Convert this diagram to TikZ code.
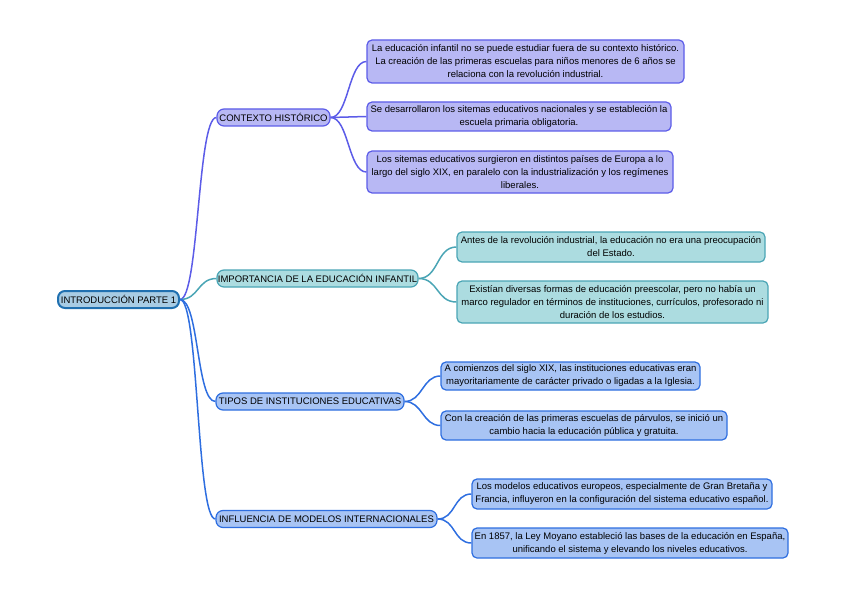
\documentclass[tikz,border=0pt]{standalone}
\usepackage{fontspec}
\setmainfont{Liberation Sans}
\definecolor{ctxFill}{HTML}{B8B8F4}
\definecolor{ctxDraw}{HTML}{5C5CE8}
\definecolor{impFill}{HTML}{ACDCE0}
\definecolor{impDraw}{HTML}{4AA5B5}
\definecolor{bluFill}{HTML}{A8C4F4}
\definecolor{bluDraw}{HTML}{2E6EE0}
\definecolor{rootFill}{HTML}{A8CCE4}
\definecolor{rootDraw}{HTML}{2070B0}
\tikzset{
  box/.style={rounded corners=5pt, line width=1.2pt, align=center, inner sep=0pt,
    font=\fontsize{9.5}{13}\selectfont, text=black},
  rootbox/.style={box, fill=rootFill, draw=rootDraw, line width=2pt, rounded corners=7pt},
  ctxbox/.style={box, fill=ctxFill, draw=ctxDraw},
  impbox/.style={box, fill=impFill, draw=impDraw},
  blubox/.style={box, fill=bluFill, draw=bluDraw},
  edge/.style={line width=1.5pt},
  ctxedge/.style={edge, draw=ctxDraw},
  impedge/.style={edge, draw=impDraw},
  bluedge/.style={edge, draw=bluDraw},
}
\begin{document}
\begin{tikzpicture}[x=1pt,y=-1pt]
\useasboundingbox (0,0) rectangle (848,599);

% root
\node[rootbox, minimum width=121pt, minimum height=17pt] (root) at (118.5,299.5) {INTRODUCCIÓN PARTE 1};

% main topics
\node[ctxbox, minimum width=113pt, minimum height=17pt, rounded corners=7pt] (ctx) at (273.5,117.5) {CONTEXTO HISTÓRICO};
\node[impbox, minimum width=201pt, minimum height=17pt, rounded corners=7pt] (imp) at (317.5,278.5) {IMPORTANCIA DE LA EDUCACIÓN INFANTIL};
\node[blubox, minimum width=188pt, minimum height=17pt, rounded corners=7pt] (tip) at (310,401.5) {TIPOS DE INSTITUCIONES EDUCATIVAS};
\node[blubox, minimum width=221pt, minimum height=17pt, rounded corners=7pt] (inf) at (326.5,519) {INFLUENCIA DE MODELOS INTERNACIONALES};

% leaves: contexto
\node[ctxbox, minimum width=317pt, minimum height=43pt] (c1) at (525.5,61.5) {La educación infantil no se puede estudiar fuera de su contexto histórico.\\ La creación de las primeras escuelas para niños menores de 6 años se\\ relaciona con la revolución industrial.};
\node[ctxbox, minimum width=304pt, minimum height=29pt] (c2) at (519,116.5) {Se desarrollaron los sitemas educativos nacionales y se estableción la\\ escuela primaria obligatoria.};
\node[ctxbox, minimum width=306pt, minimum height=42pt] (c3) at (520,172) {Los sitemas educativos surgieron en distintos países de Europa a lo\\ largo del siglo XIX, en paralelo con la industrialización y los regímenes\\ liberales.};

% leaves: importancia
\node[impbox, minimum width=308pt, minimum height=30pt] (i1) at (611,247) {Antes de la revolución industrial, la educación no era una preocupación\\ del Estado.};
\node[impbox, minimum width=311pt, minimum height=42pt] (i2) at (612.5,302) {Existían diversas formas de educación preescolar, pero no había un\\ marco regulador en términos de instituciones, currículos, profesorado ni\\ duración de los estudios.};

% leaves: tipos
\node[blubox, minimum width=259pt, minimum height=28pt] (t1) at (570.5,376) {A comienzos del siglo XIX, las instituciones educativas eran\\ mayoritariamente de carácter privado o ligadas a la Iglesia.};
\node[blubox, minimum width=286pt, minimum height=29pt] (t2) at (584,425.5) {Con la creación de las primeras escuelas de párvulos, se inició un\\ cambio hacia la educación pública y gratuita.};

% leaves: influencia
\node[blubox, minimum width=300pt, minimum height=30pt] (m1) at (622,494) {Los modelos educativos europeos, especialmente de Gran Bretaña y\\ Francia, influyeron en la configuración del sistema educativo español.};
\node[blubox, minimum width=316pt, minimum height=30pt] (m2) at (630,543) {En 1857, la Ley Moyano estableció las bases de la educación en España,\\ unificando el sistema y elevando los niveles educativos.};

% connectors root -> topics
\begin{scope}[on background layer/.try]
\end{scope}
\draw[ctxedge] (root.east) .. controls +(19,0) and +(-19,0) .. (ctx.west);
\draw[impedge] (root.east) .. controls +(19,0) and +(-19,0) .. (imp.west);
\draw[bluedge] (root.east) .. controls +(19,0) and +(-19,0) .. (tip.west);
\draw[bluedge] (root.east) .. controls +(19,0) and +(-19,0) .. (inf.west);

% topic -> leaves
\draw[ctxedge] (ctx.east) .. controls +(18,0) and +(-18,0) .. (c1.west);
\draw[ctxedge] (ctx.east) .. controls +(18,0) and +(-18,0) .. (c2.west);
\draw[ctxedge] (ctx.east) .. controls +(18,0) and +(-18,0) .. (c3.west);
\draw[impedge] (imp.east) .. controls +(20,0) and +(-20,0) .. (i1.west);
\draw[impedge] (imp.east) .. controls +(20,0) and +(-20,0) .. (i2.west);
\draw[bluedge] (tip.east) .. controls +(18,0) and +(-18,0) .. (t1.west);
\draw[bluedge] (tip.east) .. controls +(18,0) and +(-18,0) .. (t2.west);
\draw[bluedge] (inf.east) .. controls +(18,0) and +(-18,0) .. (m1.west);
\draw[bluedge] (inf.east) .. controls +(18,0) and +(-18,0) .. (m2.west);
\end{tikzpicture}
\end{document}
